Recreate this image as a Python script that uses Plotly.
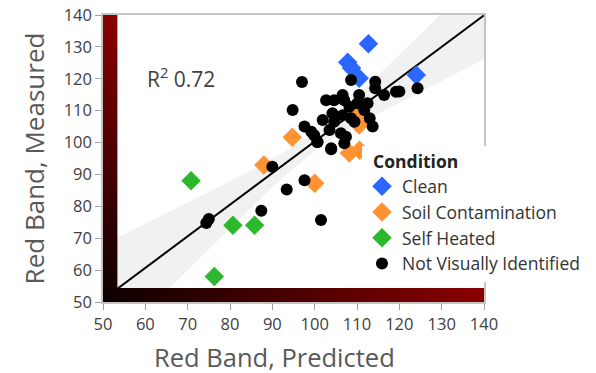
import plotly.graph_objects as go

# ---- data ----
clean_x = [112.7, 107.8, 108.7, 110.5, 124.0]
clean_y = [131.0, 125.2, 123.4, 120.2, 121.2]

soil_x = [94.7, 88.0, 100.0, 108.2, 110.6, 110.0, 110.5]
soil_y = [101.7, 93.0, 87.2, 96.7, 97.6, 108.6, 105.5]

heat_x = [70.8, 80.7, 85.8, 76.3]
heat_y = [88.0, 74.1, 74.1, 58.0]

nvi_x = [74.4, 75.0, 87.4, 90.0, 93.4, 97.6, 101.5, 103.9, 100.6, 107.0,
         97.0, 94.8, 108.6, 114.3, 114.3, 116.4, 119.2, 124.3, 120.0,
         102.7, 104.6, 106.6, 107.0, 110.5, 110.1, 112.5, 111.7, 104.2,
         106.6, 108.2, 108.6, 101.9, 104.6, 113.0, 113.7, 97.6, 99.2,
         99.9, 100.7, 103.5, 106.2, 107.4, 103.9, 109.4]
nvi_y = [74.8, 76.0, 78.6, 92.4, 85.3, 88.2, 75.7, 97.9, 100.2, 99.8,
         119.0, 110.2, 119.6, 119.1, 117.0, 114.9, 115.9, 117.0, 116.0,
         113.3, 113.3, 114.9, 113.3, 114.9, 112.3, 112.3, 110.2, 109.2,
         108.6, 111.2, 107.6, 107.1, 106.5, 107.6, 105.0, 105.0, 103.4,
         102.3, 100.2, 103.9, 102.9, 101.8, 98.2, 106.5]

fit_x = [50, 140]
fit_y = [50.8, 139.9]

band_x = [50, 55, 60, 65, 70, 75, 80, 85, 90, 95, 100, 105, 110, 115, 120, 125, 130, 135, 140]
band_lo = [33.7, 40.2, 46.9, 53.4, 60.0, 66.5, 73.1, 79.5, 85.9, 91.9, 97.3, 101.8,
           105.7, 109.2, 112.7, 116.0, 119.4, 122.7, 126.1]
band_hi = [67.9, 71.2, 74.5, 77.8, 81.2, 84.5, 87.9, 91.3, 94.9, 98.7, 103.3, 108.6,
           114.7, 121.0, 127.5, 134.0, 140.6, 147.1, 153.7]

tick_vals = [50, 60, 70, 80, 90, 100, 110, 120, 130, 140]
r2_text = "R<sup>2</sup> 0.72"
x_title = "Red Band, Predicted"
y_title = "Red Band, Measured"

FONT = "Open Sans"
fig = go.Figure()

# confidence band
fig.add_trace(go.Scatter(x=band_x + band_x[::-1], y=band_hi + band_lo[::-1],
                         fill="toself", fillcolor="#f1f1f1", line=dict(width=0),
                         mode="lines", showlegend=False, hoverinfo="skip"))
# fit line
fig.add_trace(go.Scatter(x=fit_x, y=fit_y, mode="lines",
                         line=dict(color="black", width=2), showlegend=False, hoverinfo="skip"))

# decorative gradient bars (left and bottom)
bar_w_x = 3.4
bar_w_y = 4.4
fig.add_trace(go.Scatter(x=[50, 50 + bar_w_x, 50 + bar_w_x, 50, 50],
                         y=[50, 50, 140, 140, 50], mode="lines", line=dict(width=0),
                         fill="toself",
                         fillgradient=dict(type="vertical",
                                           colorscale=[[0, "#0d0000"], [1, "#8a0000"]]),
                         showlegend=False, hoverinfo="skip"))
fig.add_trace(go.Scatter(x=[50, 140, 140, 50, 50],
                         y=[50, 50, 50 + bar_w_y, 50 + bar_w_y, 50], mode="lines", line=dict(width=0),
                         fill="toself",
                         fillgradient=dict(type="horizontal",
                                           colorscale=[[0, "#0d0000"], [1, "#8a0000"]]),
                         showlegend=False, hoverinfo="skip"))

dmd = dict(symbol="diamond", size=15)
fig.add_trace(go.Scatter(x=clean_x, y=clean_y, mode="markers", name="Clean",
                         marker=dict(color="#2b67ff", **dmd), legendgroup="a"))
fig.add_trace(go.Scatter(x=soil_x, y=soil_y, mode="markers", name="Soil Contamination",
                         marker=dict(color="#ff9233", **dmd), legendgroup="b"))
fig.add_trace(go.Scatter(x=heat_x, y=heat_y, mode="markers", name="Self Heated",
                         marker=dict(color="#2cb82c", **dmd), legendgroup="c"))
fig.add_trace(go.Scatter(x=nvi_x, y=nvi_y, mode="markers", name="Not Visually Identified",
                         marker=dict(color="black", size=12, symbol="circle"), legendgroup="d"))

fig.add_annotation(x=60, y=120.5, text=r2_text, showarrow=False, xanchor="left",
                   yanchor="middle", font=dict(family=FONT, size=21, color="#404040"))

# x-axis title (offset to the left as in the reference)
fig.add_annotation(x=0.449, y=-0.19, xref="paper", yref="paper", text=x_title,
                   showarrow=False, xanchor="center", yanchor="middle", borderpad=0,
                   font=dict(family=FONT, size=25.5, color="#595959"))

axis_common = dict(range=[50, 140], tickvals=tick_vals, showgrid=False, zeroline=False,
                   showline=True, mirror=True, linecolor="#c4c4c4", linewidth=1.5,
                   ticks="outside", ticklen=6, tickcolor="#a0a0a0", tickwidth=1,
                   tickfont=dict(family=FONT, size=16.5, color="#404040"),
                   layer="below traces", automargin=False)

fig.update_layout(
    width=596, height=373,
    margin=dict(l=103, r=111, t=15, b=71),
    paper_bgcolor="white", plot_bgcolor="white",
    xaxis=dict(**axis_common),
    yaxis=dict(title=dict(text=y_title, standoff=12,
                          font=dict(family=FONT, size=26, color="#595959")), **axis_common),
    legend=dict(x=0.678, y=0.545, xanchor="left", yanchor="top",
                bgcolor="white", borderwidth=0, tracegroupgap=0,
                title=dict(text="&nbsp;&nbsp;<b>Condition</b>",
                           font=dict(family=FONT, size=17.5, color="#222")),
                font=dict(family=FONT, size=17.5, color="#333"),
                itemwidth=30),
    showlegend=True,
)

fig.write_html("out.html", config={"displayModeBar": False},
               post_script="document.body.style.margin='0';")
